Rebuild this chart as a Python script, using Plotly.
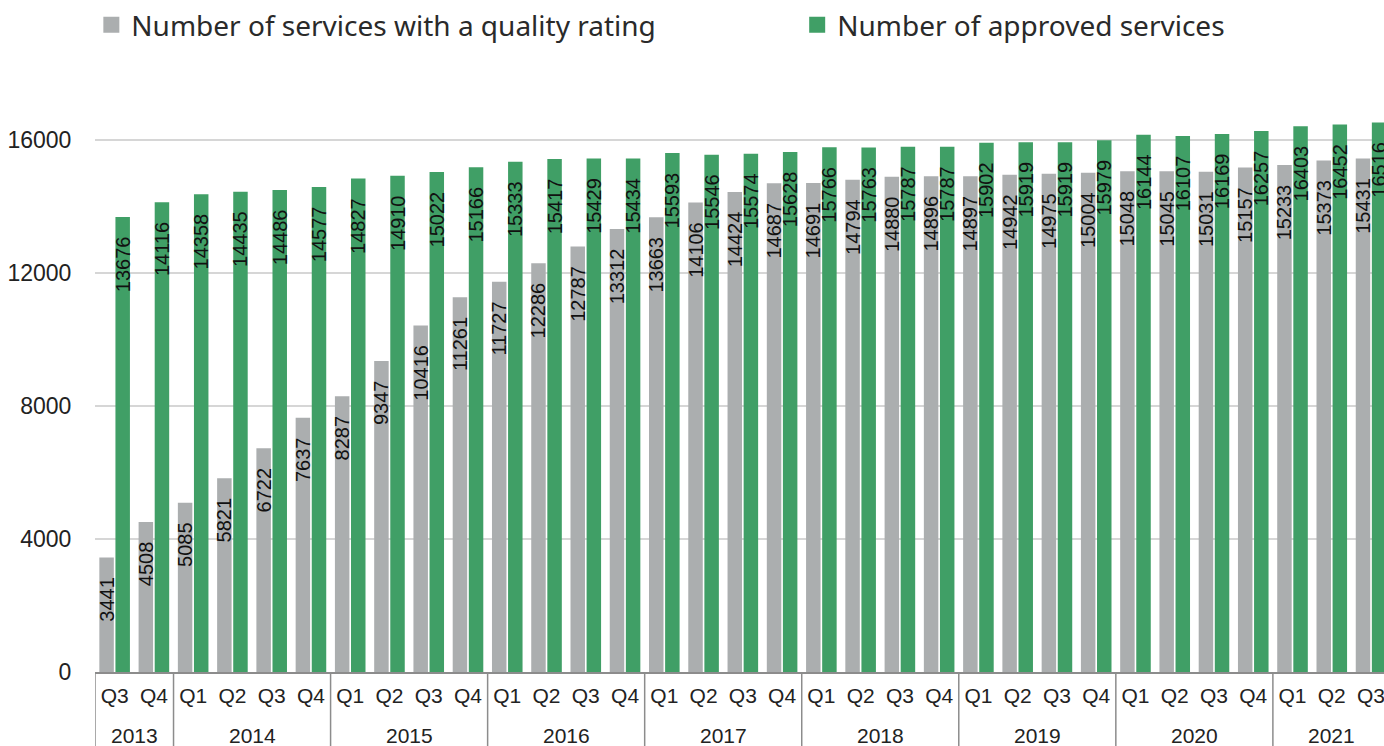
import plotly.graph_objects as go

years = ["2013"] * 2 + ["2014"] * 4 + ["2015"] * 4 + ["2016"] * 4 + ["2017"] * 4 \
    + ["2018"] * 4 + ["2019"] * 4 + ["2020"] * 4 + ["2021"] * 3
quarters = ["Q3", "Q4"] + ["Q1", "Q2", "Q3", "Q4"] * 7 + ["Q1", "Q2", "Q3"]

rated = [3441, 4508, 5085, 5821, 6722, 7637, 8287, 9347, 10416, 11261,
         11727, 12286, 12787, 13312, 13663, 14106, 14424, 14687, 14691, 14794,
         14880, 14896, 14897, 14942, 14975, 15004, 15048, 15045, 15031, 15157,
         15233, 15373, 15431]
approved = [13676, 14116, 14358, 14435, 14486, 14577, 14827, 14910, 15022, 15166,
            15333, 15417, 15429, 15434, 15593, 15546, 15574, 15628, 15766, 15763,
            15787, 15787, 15902, 15919, 15919, 15979, 16144, 16107, 16169, 16257,
            16403, 16452, 16516]

GREY = "#ABAEAF"
GREEN = "#409F66"
AXIS = "#8C8C8C"
PAD = "\u00a0" * 3
label_font = dict(family="Liberation Sans, Arial", size=20, color="#111111")
legend_font = dict(family="Noto Sans", size=28, color="#2a2a2a")

cats = [f"{q} {y}" for y, q in zip(years, quarters)]

fig = go.Figure()
series = [("Number of services with a quality rating", rated, GREY, "legend"),
          ("Number of approved services", approved, GREEN, "legend2")]
for name, vals, col, leg in series:
    fig.add_trace(go.Bar(
        x=cats, y=vals, name=name,
        marker=dict(color=col, line=dict(width=0)),
        text=[str(v) + PAD for v in vals],
        textposition="inside", insidetextanchor="end", textangle=-90,
        constraintext="none", insidetextfont=label_font,
        showlegend=False, hoverinfo="y",
    ))
    # legend entry with a bigger square symbol
    fig.add_trace(go.Scatter(
        x=[cats[0]], y=[None], mode="markers", name=name, legend=leg,
        marker=dict(symbol="square", size=20, color=col),
        hoverinfo="skip",
    ))

# year labels and group dividers on the category axis
groups = []
for i, y in enumerate(years):
    if not groups or groups[-1][0] != y:
        groups.append([y, i, i])
    else:
        groups[-1][2] = i

for y, start, end in groups:
    fig.add_annotation(
        x=(start + end) / 2, y=0, xref="x", yref="paper",
        text=y, showarrow=False, yanchor="middle", yshift=-63,
        font=dict(size=21, color="#222222"),
    )
    fig.add_shape(
        type="line", xref="x", yref="paper",
        x0=start - 0.5, x1=start - 0.5, y0=0, y1=-0.2,
        line=dict(color=AXIS, width=1.5),
    )

fig.update_layout(
    width=1384, height=746,
    margin=dict(l=95, r=0, t=73, b=74, autoexpand=False),
    paper_bgcolor="white", plot_bgcolor="white",
    barmode="group", bargap=0.18, bargroupgap=0.1,
    font=dict(family="Liberation Sans, Arial", color="#222222"),
    legend=dict(
        orientation="h", xref="container", yref="container",
        x=0.066, y=1.0, xanchor="left", yanchor="top",
        font=legend_font, itemsizing="trace",
    ),
    legend2=dict(
        orientation="h", xref="container", yref="container",
        x=0.576, y=1.0, xanchor="left", yanchor="top",
        font=legend_font, itemsizing="trace",
    ),
    xaxis=dict(
        type="category", range=[-0.5, 32.33],
        tickvals=cats, ticktext=quarters,
        showline=True, linecolor=AXIS, linewidth=1.5,
        tickfont=dict(size=21, color="#222222"),
        showgrid=False, ticks="outside", ticklen=4, tickcolor="rgba(0,0,0,0)",
        tickangle=0,
    ),
    yaxis=dict(
        range=[0, 18000], dtick=4000, tick0=0, tickformat="d",
        showgrid=True, gridcolor="#D6D6D6", gridwidth=1.5,
        zeroline=False, showline=False,
        ticks="outside", ticklen=18, tickcolor="rgba(0,0,0,0)",
        tickfont=dict(size=23, color="#222222"),
    ),
)

fig.write_html("out.html", config={"displayModeBar": False},
               post_script="document.body.style.margin='0';")
